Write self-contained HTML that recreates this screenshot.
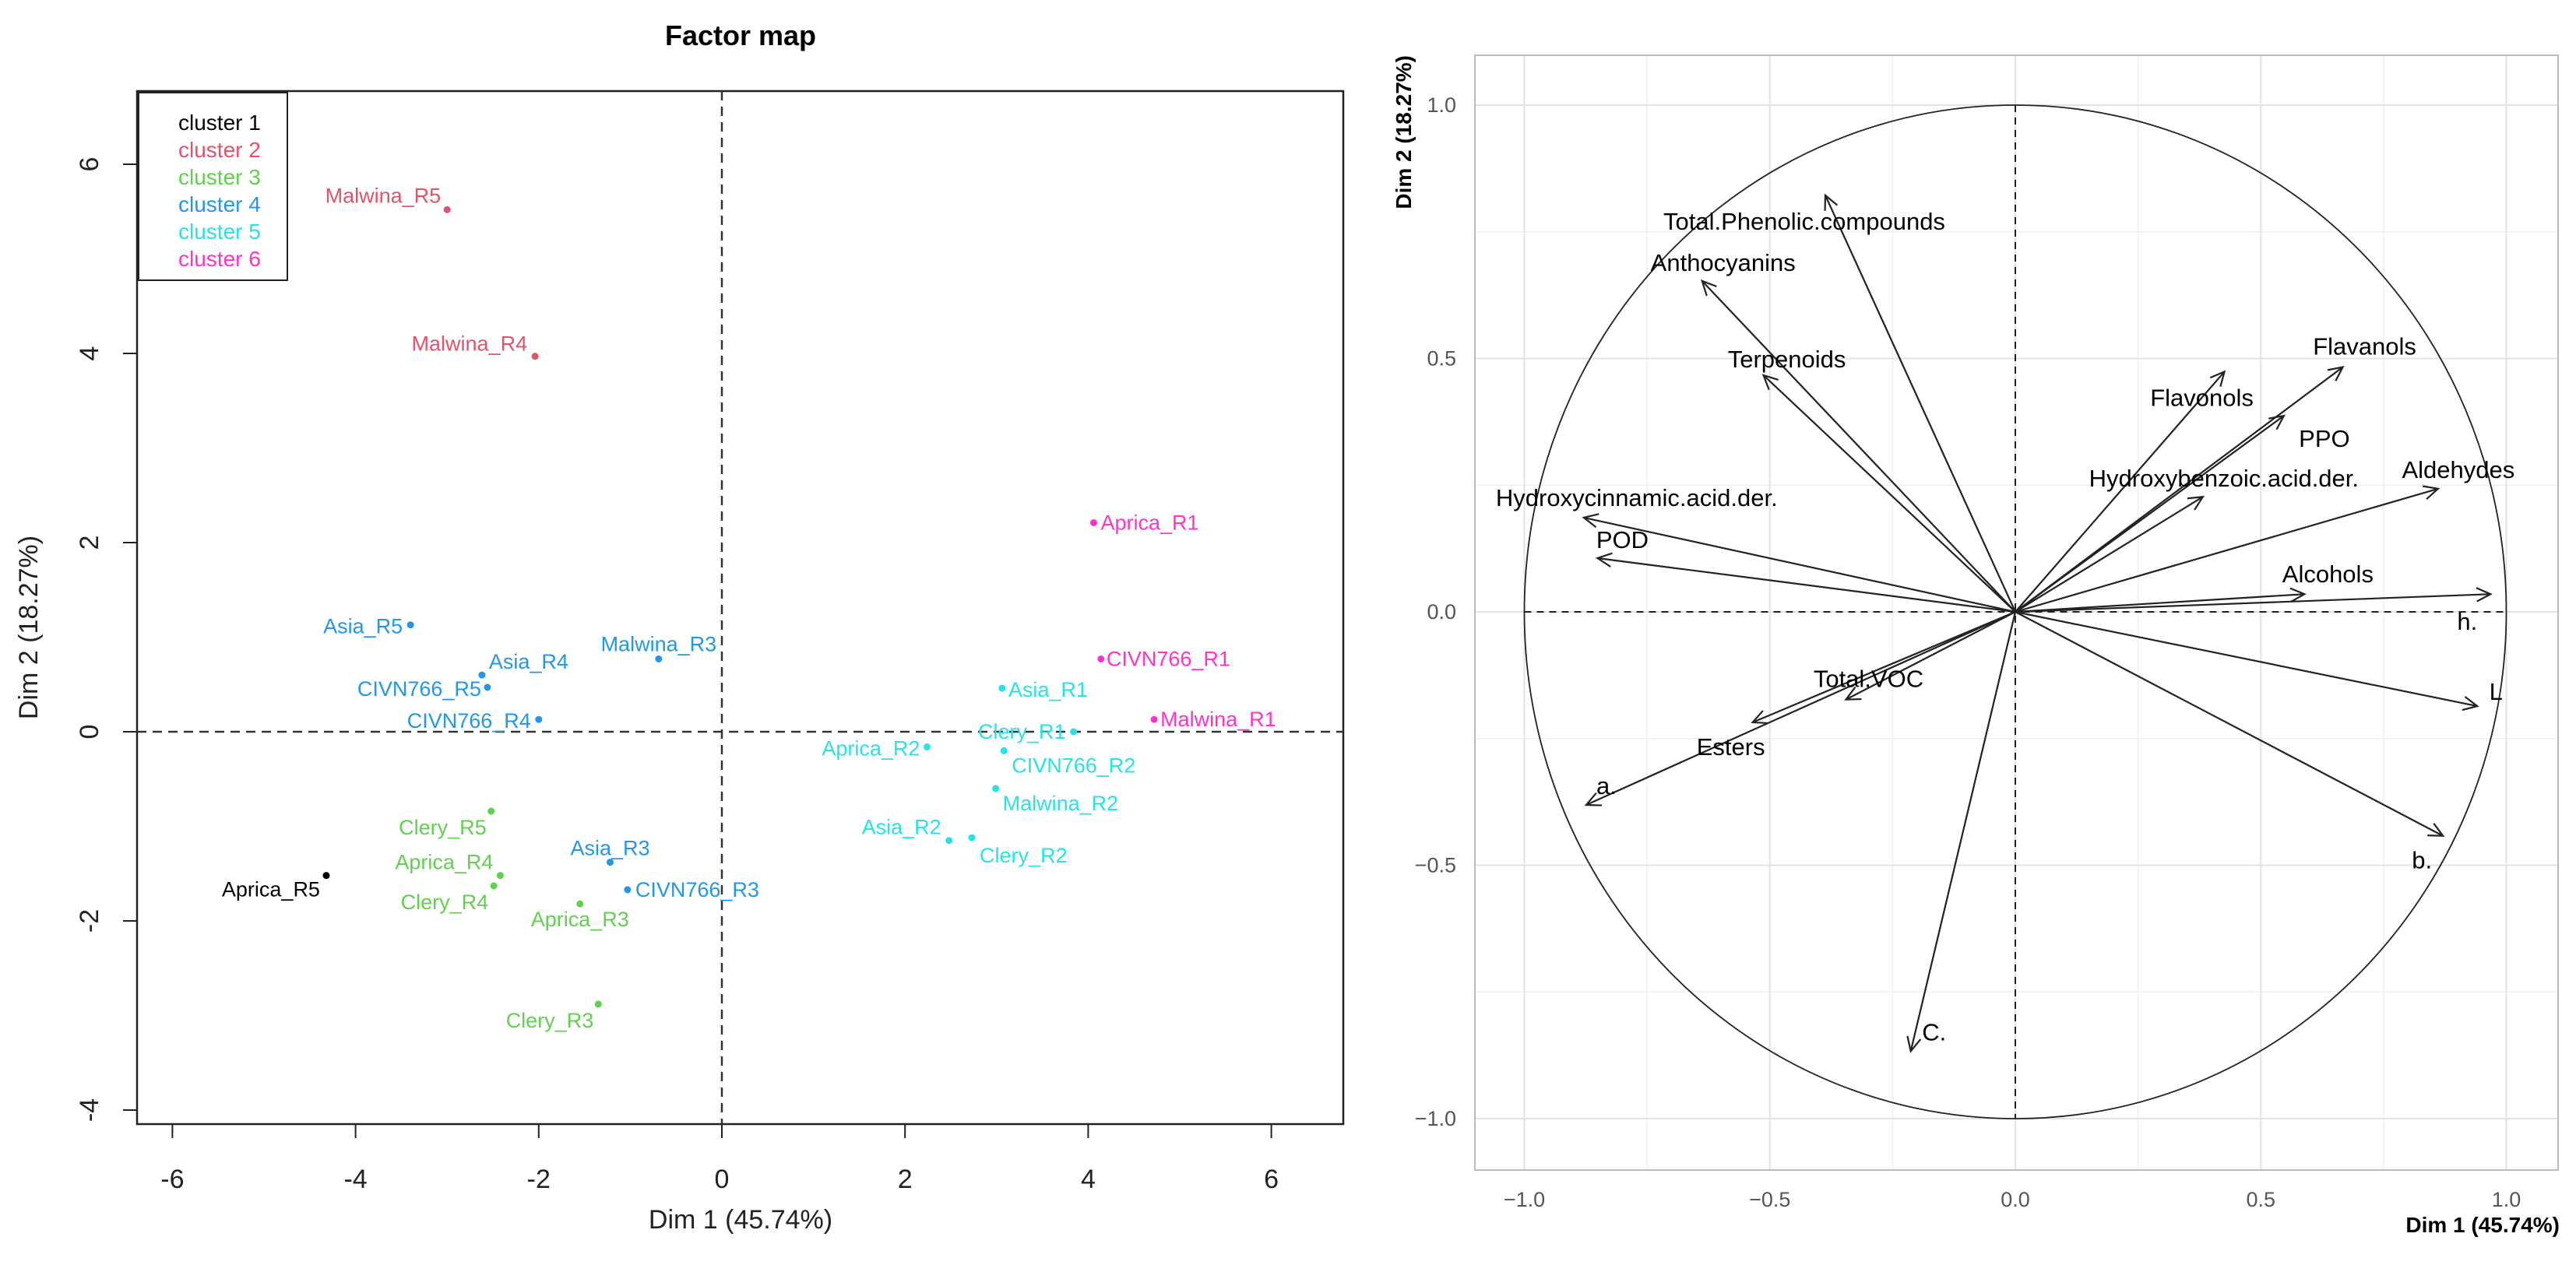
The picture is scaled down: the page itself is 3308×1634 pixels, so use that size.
<!DOCTYPE html>
<html><head><meta charset="utf-8">
<style>
html,body{margin:0;padding:0;background:#fff;}
svg{display:block;font-family:"Liberation Sans",Arial,sans-serif;}
</style></head>
<body>
<svg id="fig" width="3308" height="1634" viewBox="0 0 3308 1634" xmlns="http://www.w3.org/2000/svg">
  <g id="left"></g>
  <g id="right"></g>
</svg>
<script>
// ---- Left chart data ----
const indNames = ["Malwina_R5","Malwina_R4","Asia_R5","Malwina_R3","Asia_R4","CIVN766_R5","CIVN766_R4","Clery_R5","Asia_R3","CIVN766_R3","Aprica_R4","Clery_R4","Aprica_R3","Aprica_R5","Clery_R3","Aprica_R2","Asia_R1","Clery_R1","CIVN766_R2","Malwina_R2","Asia_R2","Clery_R2","Aprica_R1","CIVN766_R1","Malwina_R1"];
const indDim1 = [-3.0,-2.04,-3.40,-0.69,-2.62,-2.56,-2.0,-2.52,-1.22,-1.03,-2.42,-2.49,-1.55,-4.32,-1.35,2.24,3.06,3.84,3.08,2.99,2.48,2.73,4.06,4.14,4.72];
const indDim2 = [5.52,3.97,1.13,0.77,0.60,0.47,0.13,-0.84,-1.38,-1.67,-1.52,-1.63,-1.82,-1.52,-2.88,-0.16,0.46,0.0,-0.20,-0.60,-1.15,-1.12,2.21,0.77,0.13];
const indCluster = [2,2,4,4,4,4,4,3,4,4,3,3,3,1,3,5,5,5,5,5,5,5,6,6,6];
const clusterLabels = ["cluster 1","cluster 2","cluster 3","cluster 4","cluster 5","cluster 6"];
const xTicksL = [-6,-4,-2,0,2,4,6];
const yTicksL = [-4,-2,0,2,4,6];
// label placement (anchor, dx, dy in px)
const labAnchor = ["end","end","end","middle","start","end","end","end","middle","start","end","end","middle","end","end","end","start","end","start","start","end","start","start","start","start"];
const labDx = [-8,-10,-10,0,9,-8,-10,-6,0,10,-9,-7,0,-8,-6,-9,8,-10,10,9,-10,10,9,7,8];
const labDy = [-18,-16,2,-19,-17,2,2,21,-18,0,-17,21,20,18,21,2,2,0,19,19,-17,23,0,0,0];

// ---- Right chart data ----
const varNames = ["Total.Phenolic.compounds","Anthocyanins","Terpenoids","Hydroxycinnamic.acid.der.","POD","Flavonols","Flavanols","PPO","Hydroxybenzoic.acid.der.","Aldehydes","Alcohols","h.","L","b.","C.","a.","Esters","Total.VOC"];
const varDim1 = [-0.387,-0.638,-0.513,-0.879,-0.851,0.426,0.667,0.547,0.382,0.861,0.589,0.968,0.941,0.871,-0.213,-0.874,-0.535,-0.345];
const varDim2 = [0.822,0.653,0.467,0.186,0.106,0.474,0.483,0.387,0.227,0.243,0.035,0.035,-0.186,-0.442,-0.867,-0.381,-0.218,-0.173];
const varLabDx = [-27,27,30,68,32,-29,28,52,27,26,30,-30,24,-27,30,26,-28,29];
const varLabDy = [33,-24,-21,-26,-24,33,-27,29,-24,-25,-26,35,-19,31,-25,-25,31,-27];
const xTicksR = [-1.0,-0.5,0.0,0.5,1.0];
const yTicksR = [-1.0,-0.5,0.0,0.5,1.0];
const gridMinor = [-0.75,-0.25,0.25,0.75];

const NS="http://www.w3.org/2000/svg";
const colors = ["#000000","#DF536B","#61D04F","#2297E6","#28E2E5","#FF33CC"];
function mk(parent, tag, attrs, text){
  const e=document.createElementNS(NS,tag);
  for(const k in attrs) e.setAttribute(k,attrs[k]);
  if(text!==undefined) e.textContent=text;
  parent.appendChild(e); return e;
}

// ===== LEFT =====
const L=document.getElementById('left');
const lx0=927, lxs=117.6, ly0=940, lys=121.5;
const LX=v=>lx0+v*lxs, LY=v=>ly0-v*lys;
const pl=176, pr=1725, pt=117, pb=1444;

let t=mk(L,'text',{x:951,y:58,'font-size':36,'font-weight':'bold','text-anchor':'middle'},'Factor map');


let r=mk(L,'rect',{x:pl,y:pt,width:pr-pl,height:pb-pt,fill:'none',stroke:'#222','stroke-width':2.5});


let d=mk(L,'line',{x1:LX(0),x2:LX(0),y1:pt,y2:pb,stroke:'#333','stroke-width':2.5,'stroke-dasharray':'12,8'});


d=mk(L,'line',{x1:pl,x2:pr,y1:LY(0),y2:LY(0),stroke:'#333','stroke-width':2.5,'stroke-dasharray':'12,8'});


xTicksL.forEach(v=>{
  const l=mk(L,'line',{x1:LX(v),x2:LX(v),y1:pb,y2:pb+18,stroke:'#222','stroke-width':2});
  
  
  const tx=mk(L,'text',{x:LX(v),y:1526,'font-size':34,'text-anchor':'middle',fill:'#222'},String(v));
  
  
});
yTicksL.forEach(v=>{
  const l=mk(L,'line',{x1:pl-18,x2:pl,y1:LY(v),y2:LY(v),stroke:'#222','stroke-width':2});
  
  
  const tx=mk(L,'text',{x:0,y:0,'font-size':34,'text-anchor':'middle',fill:'#222',transform:`translate(126,${LY(v)}) rotate(-90)`},String(v));
  
  
});
t=mk(L,'text',{x:951,y:1578,'font-size':34,'text-anchor':'middle',fill:'#222'},'Dim 1 (45.74%)');


t=mk(L,'text',{x:0,y:0,'font-size':34,'text-anchor':'middle',fill:'#222',transform:'translate(48,806) rotate(-90)'},'Dim 2 (18.27%)');


// legend
r=mk(L,'rect',{x:178,y:119,width:191,height:241,fill:'#fff',stroke:'#222','stroke-width':2});


clusterLabels.forEach((c,i)=>{
  const e=mk(L,'text',{x:229,y:167+i*35,'font-size':28,fill:colors[i]},c);
  
  
});
indNames.forEach((n,i)=>{
  const col=colors[indCluster[i]-1];
  const cx=LX(indDim1[i]), cy=LY(indDim2[i]);
  const p=mk(L,'circle',{cx:cx,cy:cy,r:4.5,fill:col});
  
  
  const tx=mk(L,'text',{x:cx+labDx[i],y:cy+labDy[i]+9,'font-size':27,'text-anchor':labAnchor[i],fill:col},n);
  
  
});

// ===== RIGHT =====
const R=document.getElementById('right');
const rx0=2588, rxs=630.5, ry0=786, rys=651;
const RX=v=>rx0+v*rxs, RY=v=>ry0-v*rys;
const rl=1894, rr=3285, rt=71, rb=1503;
gridMinor.forEach(v=>{
  let g=mk(R,'line',{x1:RX(v),x2:RX(v),y1:rt,y2:rb,stroke:'#f0f0f0','stroke-width':1.5});
  
  
  g=mk(R,'line',{x1:rl,x2:rr,y1:RY(v),y2:RY(v),stroke:'#f0f0f0','stroke-width':1.5});
  
  
});
xTicksR.forEach(v=>{
  const g=mk(R,'line',{x1:RX(v),x2:RX(v),y1:rt,y2:rb,stroke:'#e3e3e3','stroke-width':2});
  
  
  const tx=mk(R,'text',{x:RX(v),y:1550,'font-size':27,'text-anchor':'middle',fill:'#555'},v.toFixed(1).replace('-','\u2212'));
  
  
});
yTicksR.forEach(v=>{
  const g=mk(R,'line',{x1:rl,x2:rr,y1:RY(v),y2:RY(v),stroke:'#e3e3e3','stroke-width':2});
  
  
  const tx=mk(R,'text',{x:1870,y:RY(v)+9,'font-size':27,'text-anchor':'end',fill:'#555'},v.toFixed(1).replace('-','\u2212'));
  
  
});
r=mk(R,'rect',{x:rl,y:rt,width:rr-rl,height:rb-rt,fill:'none',stroke:'#bbb','stroke-width':2});


let c=mk(R,'ellipse',{cx:RX(0),cy:RY(0),rx:rxs,ry:rys,fill:'none',stroke:'#222','stroke-width':1.8});


d=mk(R,'line',{x1:RX(0),x2:RX(0),y1:RY(1),y2:RY(-1),stroke:'#222','stroke-width':2,'stroke-dasharray':'9,7'});


d=mk(R,'line',{x1:RX(-1),x2:RX(1),y1:RY(0),y2:RY(0),stroke:'#222','stroke-width':2,'stroke-dasharray':'9,7'});


varNames.forEach((n,i)=>{
  const x1=RX(0), y1=RY(0), x2=RX(varDim1[i]), y2=RY(varDim2[i]);
  const g=mk(R,'g',{stroke:'#222','stroke-width':2.2,fill:'none'});
  
  
  mk(g,'line',{x1:x1,y1:y1,x2:x2,y2:y2});
  const a=Math.atan2(y2-y1,x2-x1), h=20, sp=0.45;
  mk(g,'polyline',{points:`${x2-h*Math.cos(a-sp)},${y2-h*Math.sin(a-sp)} ${x2},${y2} ${x2-h*Math.cos(a+sp)},${y2-h*Math.sin(a+sp)}`});
  const tx=mk(R,'text',{x:x2+varLabDx[i],y:y2+varLabDy[i]+11,'font-size':31,'text-anchor':'middle',fill:'#000'},n);
  
  
});
t=mk(R,'text',{x:3287,y:1583,'font-size':28,'font-weight':'bold','text-anchor':'end',fill:'#000'},'Dim 1 (45.74%)');


t=mk(R,'text',{x:0,y:0,'font-size':28,'font-weight':'bold','text-anchor':'end',fill:'#000',transform:'translate(1812,71) rotate(-90)'},'Dim 2 (18.27%)');


</script>
</body></html>
